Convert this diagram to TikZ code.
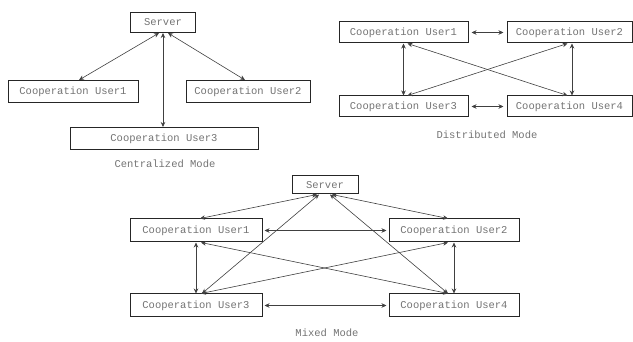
\documentclass[tikz,border=0pt]{standalone}
\usepackage{fontspec}
\setmonofont{Liberation Mono}
\usetikzlibrary{arrows.meta}
\begin{document}
\begin{tikzpicture}[x=1pt,y=-1pt,
  box/.style={draw=black!85, line width=1pt, inner sep=0pt,
    font=\ttfamily\fontsize{10.5}{12}\selectfont, text=black!55},
  ubox/.style={box, minimum width=130pt, minimum height=22pt},
  sbox/.style={box, minimum width=65pt, minimum height=20pt},
  caption/.style={font=\ttfamily\fontsize{10.5}{12}\selectfont, text=black!55},
  link/.style={draw=black!75, line width=0.6pt,
    {Stealth[length=5pt,width=4.5pt]}-{Stealth[length=5pt,width=4.5pt]}}
]
\useasboundingbox (0,0) rectangle (633,342);

% ---- centralized mode ----
\node[sbox] (cs) at (163,22.5) {Server};
\node[ubox] (cu1) at (73,91.5) {Cooperation User1};
\node[ubox, minimum width=124pt] (cu2) at (248,91.5) {Cooperation User2};
\node[ubox, minimum width=188pt] (cu3) at (164,138.5) {Cooperation User3};
\node[caption] (cl) at (165,164) {Centralized Mode};

\draw[link] ([xshift=-4pt]cs.south) -- ([xshift=6pt]cu1.north);
\draw[link] (cs.south) -- (cs.south |- cu3.north);
\draw[link] ([xshift=5pt]cs.south) -- ([xshift=-3pt]cu2.north);

% ---- distributed mode ----
\node[ubox, minimum width=129pt, minimum height=21pt] (du1) at (403.5,32.5) {Cooperation User1};
\node[ubox, minimum width=125pt, minimum height=21pt] (du2) at (569.5,32.5) {Cooperation User2};
\node[ubox, minimum width=129pt, minimum height=21pt] (du3) at (403.5,106.5) {Cooperation User3};
\node[ubox, minimum width=125pt, minimum height=21pt] (du4) at (569.5,106.5) {Cooperation User4};
\node[caption] (dl) at (487,135) {Distributed Mode};

\draw[link, shorten <=3pt, shorten >=3pt] (du1.east) -- (du2.west);
\draw[link, shorten <=3pt, shorten >=3pt] (du3.east) -- (du4.west);
\draw[link] (du1.south) -- (du3.north);
\draw[link] ([xshift=2.5pt]du2.south) -- ([xshift=2.5pt]du4.north);
\draw[link] ([xshift=4pt]du1.south) -- ([xshift=-2pt]du4.north);
\draw[link] ([xshift=4pt]du3.north) -- ([xshift=-2pt]du2.south);

% ---- mixed mode ----
\node[sbox, minimum width=66pt, minimum height=18pt] (ms) at (325,185) {Server};
\node[ubox, minimum width=132pt, minimum height=23pt] (mu1) at (196,230.5) {Cooperation User1};
\node[ubox, minimum width=130pt, minimum height=23pt] (mu2) at (454,230.5) {Cooperation User2};
\node[ubox, minimum width=132pt, minimum height=23pt] (mu3) at (196,305.5) {Cooperation User3};
\node[ubox, minimum width=130pt, minimum height=23pt] (mu4) at (454,305.5) {Cooperation User4};
\node[caption] (ml) at (327,333) {Mixed Mode};

\draw[link] ([xshift=-8pt]ms.south) -- ([xshift=4pt]mu1.north);
\draw[link] ([xshift=7pt]ms.south) -- ([xshift=-6pt]mu2.north);
\draw[link] ([xshift=-6pt]ms.south) -- ([xshift=6pt]mu3.north);
\draw[link] ([xshift=5pt]ms.south) -- ([xshift=-6pt]mu4.north);
\draw[link, shorten <=2pt, shorten >=2pt] (mu1.east) -- (mu2.west);
\draw[link, shorten <=2pt, shorten >=2pt] (mu3.east) -- (mu4.west);
\draw[link] (mu1.south) -- (mu3.north);
\draw[link] (mu2.south) -- (mu4.north);
\draw[link] ([xshift=5pt]mu1.south) -- ([xshift=-6pt]mu4.north);
\draw[link] ([xshift=5pt]mu3.north) -- ([xshift=-6pt]mu2.south);
\end{tikzpicture}
\end{document}
